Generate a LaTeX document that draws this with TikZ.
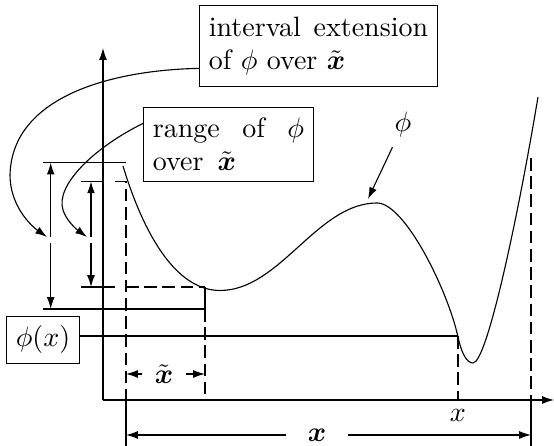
\documentclass[tikz,border=0pt]{standalone}
\usepackage{amsmath}
\usetikzlibrary{arrows.meta,calc}
\begin{document}
\begin{tikzpicture}[x=0.357pt,y=-0.357pt,
  tip/.style={-{Latex[length=4.2pt,width=2.8pt]}},
  dsh/.style={dash pattern=on 4.5pt off 2pt},
  lbox/.style={draw, inner sep=3.33pt, anchor=north west},
  line width=0.4pt]
\useasboundingbox (0,0) rectangle (554,446);

% boxes
\node[lbox] (ibox) at (199,5)
  {\parbox[c][22.2pt][c]{78.3pt}{interval\hfill extension\\of $\phi$ over $\tilde{\boldsymbol x}$}};
\node[lbox] (rbox) at (143,107)
  {\parbox[c][19.7pt][c]{54pt}{range\hfill of\hfill $\phi$\\over\ \,$\tilde{\boldsymbol x}$}};
\node[draw, inner sep=3.33pt, minimum height=16.4pt] (phix) at (43,340) {$\phi(x)$};

% axes
\coordinate (O) at (103,400);
\coordinate (ytop) at (103,48);
\coordinate (xend) at (554,400);
\draw[tip] (O) -- (ytop);
\draw[tip] (O) -- (xend);

% function curve
\coordinate (c0) at (123,166);
\coordinate (c1) at (220,290.5);
\coordinate (c2) at (377,203);
\coordinate (c3) at (458,337);
\coordinate (c4) at (473,363);
\coordinate (c5) at (538,97);
\draw (c0) .. controls (143,232) and (175,290.5) .. (c1)
           .. controls (280,290.5) and (317,203) .. (c2)
           .. controls (405,203) and (448,291) .. (c3)
           .. controls (461,351) and (466,363) .. (c4)
           .. controls (487,363) and (518,217) .. (c5);

% phi label
\node (philab) at (403,125) {$\phi$};
\coordinate (phitip) at (368,199);
\draw[tip] (philab) -- (phitip);

% interval extension bracket
\coordinate (ie1) at (43,162.7);
\coordinate (ie2) at (126,162.7);
\draw (ie1) -- (ie2);
\coordinate (ib1) at (43,309);
\coordinate (ib2) at (205,309);
\coordinate (ib3) at (205,287);
\draw (ib1) -- (ib2) -- (ib3);
\coordinate (bigtop) at (50.7,162.7);
\coordinate (bigbot) at (50.7,309);
\coordinate (biggapA) at (50.7,237);
\coordinate (biggapB) at (50.7,243);
\draw[tip] (biggapA) -- (bigtop);
\draw[tip] (biggapB) -- (bigbot);

% range bracket
\coordinate (rt1) at (81,181.5);
\coordinate (rt2) at (104,181.5);
\draw (rt1) -- (rt2);
\coordinate (rt3) at (115,181.5);
\coordinate (rt4) at (126,181.5);
\coordinate (xl) at (126,400);
\coordinate (xlb) at (126,446);
\draw[dsh] (rt3) -- (rt4) -- (xl);
\draw (xl) -- (xlb);
\coordinate (rb1) at (81,287);
\coordinate (rb2) at (115,287);
\draw (rb1) -- (rb2);
\coordinate (rb3) at (126,287);
\draw[dsh] (rb3) -- (ib3);
\coordinate (xr) at (205,400);
\draw[dsh] (ib2) -- (xr);
\coordinate (smtop) at (91,181.5);
\coordinate (smbot) at (91,287);
\coordinate (smgapA) at (91,237);
\coordinate (smgapB) at (91,243);
\draw[tip] (smgapA) -- (smtop);
\draw[tip] (smgapB) -- (smbot);

% curved pointers
\coordinate (ptA) at (47,237);
\coordinate (ptB) at (87,237);
\draw[tip] ([yshift=-8pt]ibox.west) .. controls (115,70) and (12,95) .. (10,175)
   .. controls (10,205) and (30,225) .. (ptA);
\draw[tip] ([yshift=7.5pt]rbox.west) .. controls (95,147) and (55,185) .. (63,210)
   .. controls (66,220) and (76,229) .. (ptB);

% phi(x) level
\coordinate (px) at (458,336);
\coordinate (pxa) at (458,400);
\draw (phix.east |- px) -- (px);
\draw[dsh] (px) -- (pxa);
\node (xlab) at (458,415) {$x$};

% right bound of x
\coordinate (xR0) at (531,158);
\coordinate (xR1) at (531,400);
\coordinate (xR2) at (531,446);
\draw[dsh] (xR0) -- (xR1);
\draw (xR1) -- (xR2);

% x tilde dimension
\node[inner xsep=4.5pt] (xt) at (164,374) {$\tilde{\boldsymbol x}$};
\coordinate (xtl) at (126,374);
\coordinate (xtr) at (205,374);
\draw[tip] (xt.west) -- (xtl);
\draw[tip] (xt.east) -- (xtr);

% x dimension
\node[inner xsep=7.5pt] (xb) at (317,435) {$\boldsymbol x$};
\coordinate (xbl) at (126,435);
\coordinate (xbr) at (531,435);
\draw[tip] (xb.west) -- (xbl);
\draw[tip] (xb.east) -- (xbr);
\end{tikzpicture}
\end{document}
